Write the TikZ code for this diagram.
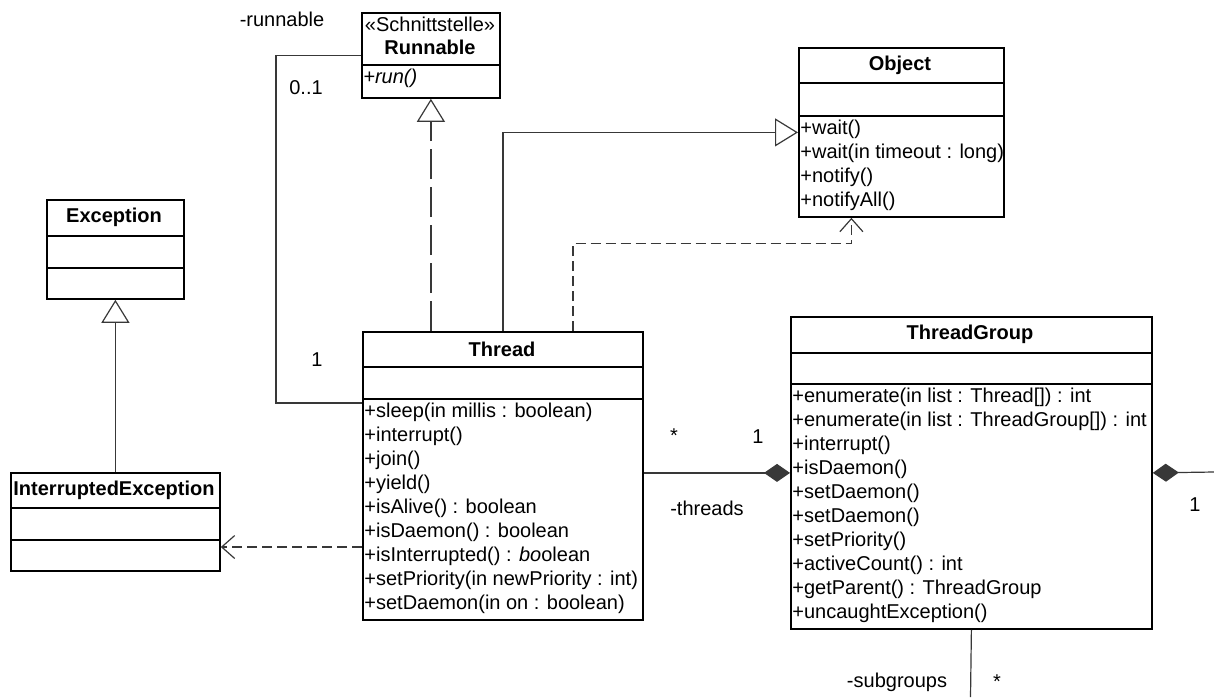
\documentclass[tikz,border=0pt]{standalone}
\usepackage{fontspec}
\setmainfont{Liberation Sans}
\usetikzlibrary{arrows.meta,calc}

\tikzset{
    cls/.style={draw, line width=0.9pt, anchor=north west, inner sep=0pt},
    sep/.style={line width=0.9pt},
    hd/.style={font=\bfseries, inner sep=0pt},
    ops/.style={anchor=north west, align=left, inner xsep=1pt, inner ysep=2pt,
        font=\fontsize{10}{12}\selectfont},
    mult/.style={inner sep=0pt},
    lnk/.style={line width=0.6pt, draw=black!78},
    gen/.style={lnk, -{Triangle[open, length=11.5pt, width=14pt, fill=white]}},
    real/.style={gen, dash pattern=on 15pt off 4pt},
    dep/.style={lnk, dash pattern=on 5pt off 2.5pt, -{Straight Barb[length=6.5pt, width=11.5pt]}},
    comp/.style={lnk, -{Diamond[length=13pt, width=9pt]}}
}

\begin{document}
\begin{tikzpicture}[x=0.5pt, y=-0.5pt]
    \useasboundingbox (0,0) rectangle (1214,697);

    % classes
    \node[cls, minimum width=69pt, minimum height=42.5pt] (runnable) at (361,12) {};
    \node[cls, minimum width=102.5pt, minimum height=84.5pt] (object) at (798,47) {};
    \node[cls, minimum width=68.5pt, minimum height=49.5pt] (exception) at (46,199) {};
    \node[cls, minimum width=104.5pt, minimum height=49pt] (interr) at (10,472) {};
    \node[cls, minimum width=140pt, minimum height=144pt] (thread) at (362,331) {};
    \node[cls, minimum width=180.5pt, minimum height=156pt] (tgroup) at (790,316) {};

    \draw[sep] (361,65) -- (499,65);
    \draw[sep] (798,83) -- (1003,83);
    \draw[sep] (798,116) -- (1003,116);
    \draw[sep] (46,236) -- (183,236);
    \draw[sep] (46,268) -- (183,268);
    \draw[sep] (10,508) -- (219,508);
    \draw[sep] (10,540) -- (219,540);
    \draw[sep] (362,367) -- (642,367);
    \draw[sep] (362,399) -- (642,399);
    \draw[sep] (790,353) -- (1151,353);
    \draw[sep] (790,384) -- (1151,384);

    \node[inner sep=0pt] (runnable-s) at (430,24) {«Schnittstelle»};
    \node[hd] (runnable-t) at (430,47) {Runnable};
    \node[hd] (object-t) at (900,65) {Object};
    \node[hd] (exception-t) at (114,217) {Exception};
    \node[hd] (interr-t) at (114,490) {InterruptedException};
    \node[hd] (thread-t) at (502,349) {Thread};
    \node[hd] (tgroup-t) at (970,334) {ThreadGroup};

    \node[ops] (runnable-o) at (361,65) {\textit{+run()}};
    \node[ops] (object-o) at (798,116) {+wait()\\+wait(in timeout : long)\\+notify()\\+notifyAll()};
    \node[ops] (thread-o) at (362,399) {+sleep(in millis : boolean)\\+interrupt()\\+join()\\+yield()\\
        +isAlive() : boolean\\+isDaemon() : boolean\\+isInterrupted() : \textit{bo}olean\\
        +setPriority(in newPriority : int)\\+setDaemon(in on : boolean)};
    \node[ops] (tgroup-o) at (790,384) {+enumerate(in list : Thread[]) : int\\
        +enumerate(in list : ThreadGroup[]) : int\\+interrupt()\\+isDaemon()\\+setDaemon()\\
        +setDaemon()\\+setPriority()\\+activeCount() : int\\+getParent() : ThreadGroup\\
        +uncaughtException()};

    % connectors
    \draw[real] (runnable.south |- thread.north) -- (runnable.south);
    \draw[gen] (thread.north) |- (object.west);
    \draw[dep] ($(thread.north)+(70,0)$) |- ($(object.south)+(-50,26)$) -- ($(object.south)+(-50,0)$);
    \draw[lnk] (runnable.west) -| ($(thread.north west)+(-86,72)$) -- ($(thread.north west)+(0,72)$);
    \draw[gen] (interr.north) -- (exception.south);
    \draw[dep] ($(thread.north west)+(0,216)$) -- ($(interr.north east)+(0,75)$);
    \draw[comp] (thread.east |- tgroup.west) -- (tgroup.west);

    \coordinate (tg-r) at (1214,472);
    \coordinate (tg-b) at (970.5,697);
    \draw[comp] (tg-r) -- (tgroup.east);
    \draw[lnk] (tgroup.south) -- (tg-b);

    % multiplicities and roles
    \node[mult] (l-runnable) at (282,19) {-runnable};
    \node[mult] (l-01) at (306,88) {0..1};
    \node[mult] (l-1a) at (317,360) {1};
    \node[mult] (l-star) at (674,436) {*};
    \node[mult] (l-1b) at (758,437) {1};
    \node[mult] (l-threads) at (707,508) {-threads};
    \node[mult] (l-1c) at (1195,505) {1};
    \node[mult] (l-sub) at (897,682) {-subgroups};
    \node[mult] (l-star2) at (997,682) {*};
\end{tikzpicture}
\end{document}
